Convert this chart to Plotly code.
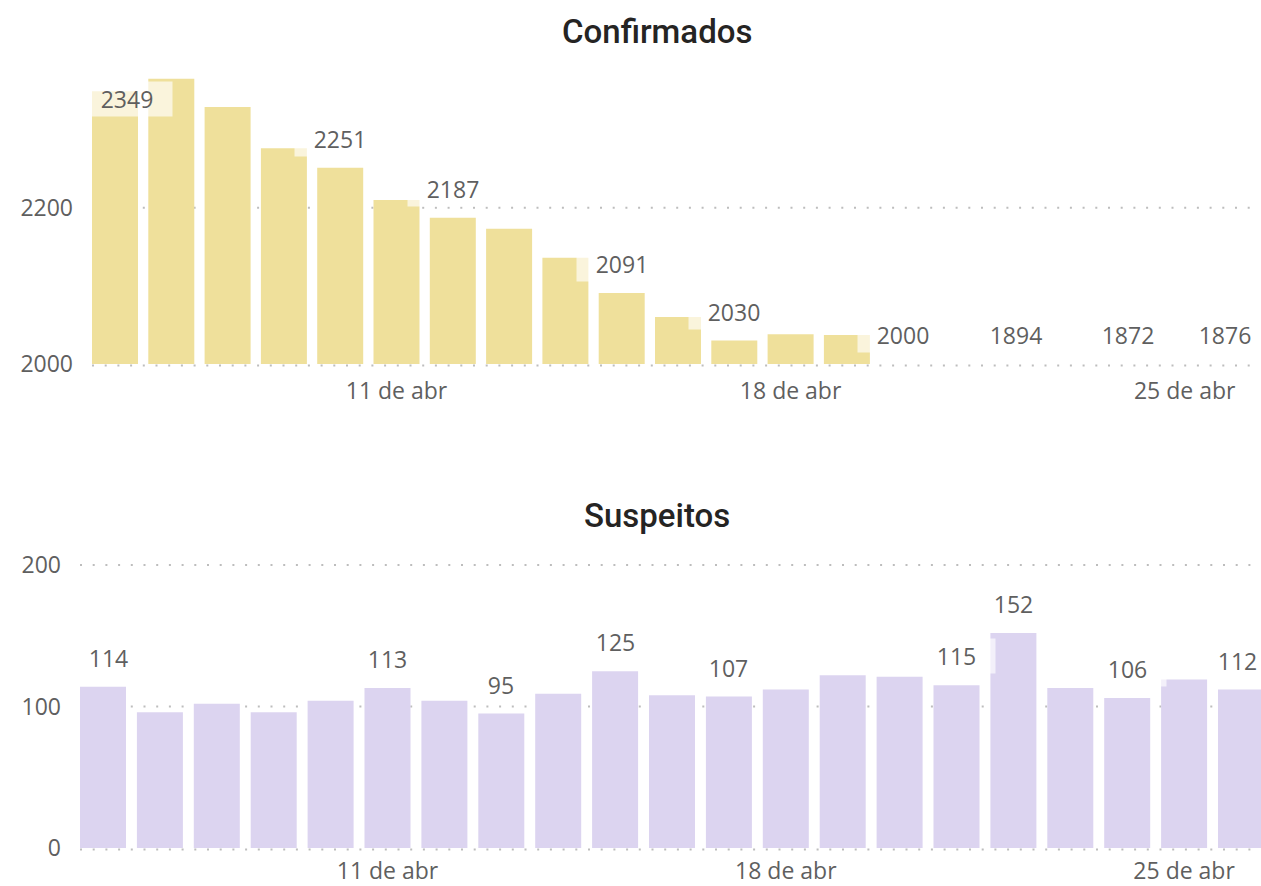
import plotly.graph_objects as go

# days shown on both charts (abril)
dias = ["6 de abr", "7 de abr", "8 de abr", "9 de abr", "10 de abr", "11 de abr", "12 de abr",
        "13 de abr", "14 de abr", "15 de abr", "16 de abr", "17 de abr", "18 de abr", "19 de abr",
        "20 de abr", "21 de abr", "22 de abr", "23 de abr", "24 de abr", "25 de abr", "26 de abr"]
ticks_x = ["11 de abr", "18 de abr", "25 de abr"]

confirmados = [2349, 2365, 2329, 2276, 2251, 2210, 2187, 2173, 2136, 2091, 2060, 2030, 2038, 2037,
               2000, 1950, 1894, 1885, 1872, 1870, 1876]
confirmados_rotulos = [0, 4, 6, 9, 11, 14, 16, 18, 20]
confirmados_ticks = [2000, 2200]

suspeitos = [114, 96, 102, 96, 104, 113, 104, 95, 109, 125, 108, 107, 112, 122, 121, 115, 152, 113,
             106, 119, 112]
suspeitos_rotulos = [0, 5, 7, 9, 11, 15, 16, 18, 20]
suspeitos_ticks = [0, 100, 200]

W, H = 1261, 886
FONT = "Open Sans"
GRAY = "#5f5f5f"
GOLD = "#efe09b"
LILAC = "#dcd4f0"
DOTS = dict(color="#bdbdbd", width=2, dash="2px,10.7px")

# plot areas in pixels: left, right, top, bottom
top_box = (92, 1255, 78, 364)
bot_box = (80, 1261, 565, 848)
top_pitch, bot_pitch = 56.3, 56.9
top_bar, bot_bar = 46 / 56.3, 46 / 56.9
top_y = [2000, 2366]
bot_y = [0, 200]


def domain(box):
    l, r, t, b = box
    return [l / W, r / W], [1 - b / H, 1 - t / H]


def xrange_for(box, pitch, barw):
    l, r, _, _ = box
    start = -barw / 2
    return [start, start + (r - l) / pitch]


def labels(values, idx, box, pitch, barw, yr, xref, yref):
    l, r, t, b = box
    ppu_y = (b - t) / (yr[1] - yr[0])
    out = []
    for i in idx:
        v = values[i]
        txt = str(v)
        w = len(txt) * 13
        cx = l + (i + barw / 2) * pitch
        shift = 0
        if cx - w / 2 < l + 9:
            shift = l + 9 + w / 2 - cx
        if cx + w / 2 > r - 4:
            shift = r - 4 - w / 2 - cx
        yv = max(v, yr[0])
        top_px = b - (yv - yr[0]) * ppu_y
        ys = 29 if top_px - 29 - 16 > t else -8
        out.append(dict(x=dias[i], y=yv, xref=xref, yref=yref, text=txt, showarrow=False,
                        xshift=shift, yshift=ys, xanchor="center", yanchor="middle",
                        width=w + 30, height=26, borderpad=4,
                        bgcolor="rgba(255,255,255,0.65)",
                        font=dict(family=FONT, size=23, color=GRAY)))
    return out


def grid_shapes(tickvals, yr, box, xref):
    l, r, t, b = box
    out = []
    for v in tickvals:
        ypx = b - (v - yr[0]) / (yr[1] - yr[0]) * (b - t)
        if v <= yr[0]:
            ypx = b + 1.5
        out.append(dict(type="line", xref=xref + " domain", yref="paper", x0=0, x1=1,
                        y0=1 - ypx / H, y1=1 - ypx / H, line=DOTS,
                        layer="above" if v <= yr[0] else "below"))
    return out


fig = go.Figure()
fig.add_trace(go.Bar(x=dias, y=confirmados, marker_color=GOLD, width=top_bar,
                     marker_line_width=0, xaxis="x", yaxis="y", showlegend=False))
fig.add_trace(go.Bar(x=dias, y=suspeitos, marker_color=LILAC, width=bot_bar,
                     marker_line_width=0, xaxis="x2", yaxis="y2", showlegend=False))

ycommon = dict(showgrid=False, zeroline=False, showline=False, ticks="", ticklabelstandoff=18,
               automargin=False, tickfont=dict(family=FONT, size=23, color=GRAY))
xcommon = dict(type="category", categoryorder="array", categoryarray=dias,
               tickmode="array", tickvals=ticks_x, ticktext=ticks_x, showgrid=False,
               zeroline=False, showline=False, ticks="", automargin=False,
               tickfont=dict(family=FONT, size=23, color=GRAY))

tx, ty = domain(top_box)
bx, by = domain(bot_box)
fig.update_layout(
    width=W, height=H,
    margin=dict(l=0, r=0, t=0, b=0, autoexpand=False),
    paper_bgcolor="white", plot_bgcolor="white",
    xaxis=dict(domain=tx, range=xrange_for(top_box, top_pitch, top_bar), anchor="y",
               ticklabelstandoff=11, **xcommon),
    yaxis=dict(domain=ty, range=top_y, tickmode="array", tickvals=confirmados_ticks,
               ticktext=[str(v) for v in confirmados_ticks], anchor="x", **ycommon),
    xaxis2=dict(domain=bx, range=xrange_for(bot_box, bot_pitch, bot_bar), anchor="y2",
                ticklabelstandoff=7, **xcommon),
    yaxis2=dict(domain=by, range=bot_y, tickvals=suspeitos_ticks, anchor="x2", **ycommon),
    shapes=grid_shapes(confirmados_ticks, top_y, top_box, "x")
    + grid_shapes(suspeitos_ticks, bot_y, bot_box, "x2"),
)

ann = labels(confirmados, confirmados_rotulos, top_box, top_pitch, top_bar, top_y, "x", "y")
ann += labels(suspeitos, suspeitos_rotulos, bot_box, bot_pitch, bot_bar, bot_y, "x2", "y2")
for title, ypx in [("Confirmados", 31), ("Suspeitos", 515)]:
    ann.append(dict(x=657 / W, y=1 - ypx / H, xref="paper", yref="paper", text=title,
                    showarrow=False, xanchor="center", yanchor="middle",
                    font=dict(family="Roboto", size=33, weight=500, color="#252423")))
fig.update_layout(annotations=ann)

fig.write_html("out.html", config={"displayModeBar": False},
               post_script="document.body.style.margin='0px';")
